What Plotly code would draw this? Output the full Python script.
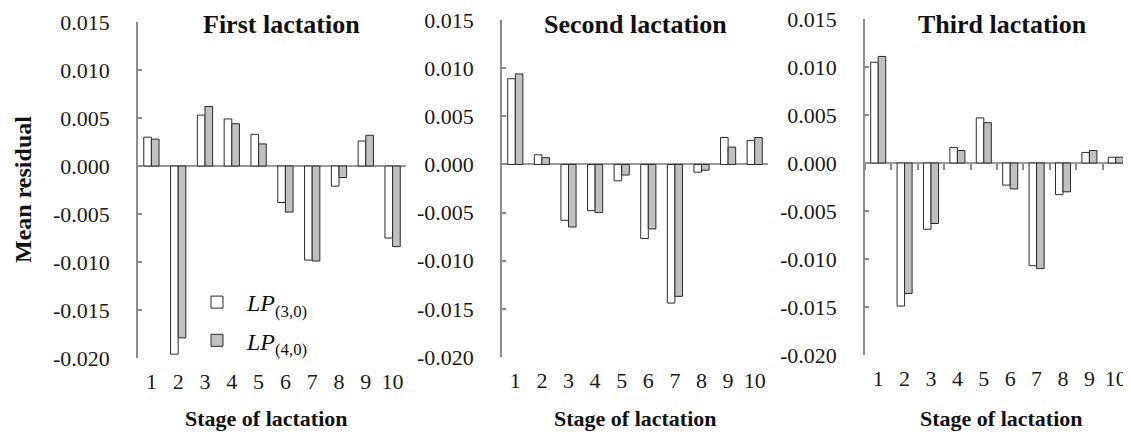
import plotly.graph_objects as go

W, H = 1131, 436
OX, OY = 8, 8  # the page draws the figure 8px in from the top-left corner

stages = [1, 2, 3, 4, 5, 6, 7, 8, 9, 10]
stage_labels = ["1", "2", "3", "4", "5", "6", "7", "8", "9", "10"]

first_lp30 = [0.0030, -0.0196, 0.0053, 0.0049, 0.0033, -0.0038, -0.0098, -0.0021, 0.0026, -0.0075]
first_lp40 = [0.0028, -0.0179, 0.0062, 0.0044, 0.0023, -0.0048, -0.0099, -0.0012, 0.0032, -0.0084]
second_lp30 = [0.0089, 0.0010, -0.0058, -0.0048, -0.0017, -0.0077, -0.0144, -0.0008, 0.0028, 0.0025]
second_lp40 = [0.0094, 0.0007, -0.0065, -0.0050, -0.0011, -0.0067, -0.0137, -0.0006, 0.0018, 0.0028]
third_lp30 = [0.0105, -0.0149, -0.0069, 0.0016, 0.0047, -0.0023, -0.0107, -0.0033, 0.0011, 0.0006]
third_lp40 = [0.0111, -0.0136, -0.0063, 0.0013, 0.0042, -0.0027, -0.0110, -0.0030, 0.0013, 0.0006]

y_tickvals = [0.015, 0.010, 0.005, 0.0, -0.005, -0.010, -0.015, -0.020]
y_ticktext = ["0.015", "0.010", "0.005", "0.000", "-0.005", "-0.010", "-0.015", "-0.020"]

panel_titles = ["First lactation", "Second lactation", "Third lactation"]
series_names = ["<i>LP</i><sub>(3,0)</sub>", "<i>LP</i><sub>(4,0)</sub>"]

FONT = "Liberation Serif"
AXIS_GREY = "#8c8c8c"
YMIN, YMAX = -0.020, 0.015

# pixel layout of panels on the screen: (x0, x1, ytop, ybottom)
panels = [(138, 406, 22, 358), (502, 768, 20, 357), (865, 1129, 19, 355)]
title_x = [281, 636, 1002]
xtitle_px = [(266, 418), (636, 418), (1001, 418)]

def px(x):
    return (x - OX) / W

def py(y):
    return 1 - (y - OY) / H

data = [(first_lp30, first_lp40), (second_lp30, second_lp40), (third_lp30, third_lp40)]

fig = go.Figure()
for i, (s30, s40) in enumerate(data):
    k = "" if i == 0 else str(i + 1)
    fig.add_trace(go.Bar(
        x=stages, y=s30, name=series_names[0], xaxis="x" + k, yaxis="y" + k,
        marker=dict(color="white", line=dict(color="#2b2b2b", width=1)),
        showlegend=(i == 0), legendgroup="a",
    ))
    fig.add_trace(go.Bar(
        x=stages, y=s40, name=series_names[1], xaxis="x" + k, yaxis="y" + k,
        marker=dict(color="#c0c0c0", line=dict(color="#2b2b2b", width=1)),
        showlegend=(i == 0), legendgroup="b",
    ))

# invisible trace to host the boundary-tick axis of the third panel
fig.add_trace(go.Scatter(x=[stages[0]], y=[0], xaxis="x4", yaxis="y3", mode="markers",
                         marker=dict(opacity=0), showlegend=False, hoverinfo="skip"))

layout = dict(
    template="none",
    width=W, height=H, autosize=False,
    margin=dict(l=0, r=0, t=0, b=0, pad=0, autoexpand=False),
    paper_bgcolor="white", plot_bgcolor="white",
    barmode="group", bargap=0.43, bargroupgap=0,
    font=dict(family=FONT, size=22, color="#1a1a1a"),
    showlegend=True,
    legend=dict(x=px(187), y=py(280), xanchor="left", yanchor="top",
                bgcolor="rgba(0,0,0,0)", borderwidth=0,
                font=dict(family=FONT, size=24, color="#111"),
                tracegroupgap=4, itemwidth=50),
)

annotations = []
for i, (x0, x1, yt, yb) in enumerate(panels):
    k = "" if i == 0 else str(i + 1)
    layout["xaxis" + k] = dict(
        domain=[px(x0), px(x1)], anchor="y" + k, range=[0.5, 10.5], automargin=False,
        tickvals=stages, ticktext=stage_labels, showline=False, showgrid=False,
        zeroline=False, ticks="outside", ticklen=4, tickcolor="rgba(0,0,0,0)",
        ticklabeloverflow="allow",
        tickfont=dict(family=FONT, size=22, color="#1a1a1a"),
    )
    layout["yaxis" + k] = dict(
        domain=[py(yb), py(yt)], anchor="x" + k, range=[YMIN, YMAX], automargin=False,
        tickvals=y_tickvals, ticktext=y_ticktext, showgrid=False,
        showline=True, linecolor=AXIS_GREY, linewidth=1.5,
        ticks="inside", ticklen=4, tickcolor=AXIS_GREY, tickwidth=1.5,
        ticklabelstandoff=22, ticklabeloverflow="allow",
        zeroline=True, zerolinecolor="#9a9a9a", zerolinewidth=1.5,
        tickfont=dict(family=FONT, size=22, color="#1a1a1a"),
    )
    annotations.append(dict(text="<b>" + panel_titles[i] + "</b>", x=px(title_x[i]), y=1,
                            xref="paper", yref="paper", showarrow=False,
                            xanchor="center", yanchor="top",
                            font=dict(family=FONT, size=26, color="#111")))
    xx, xy = xtitle_px[i]
    annotations.append(dict(text="<b>Stage of lactation</b>", x=px(xx), y=py(xy),
                            xref="paper", yref="paper", showarrow=False,
                            xanchor="center", yanchor="middle",
                            font=dict(family=FONT, size=22, color="#111")))

annotations.append(dict(text="<b>Mean residual</b>", x=0, y=py(190), xref="paper", yref="paper",
                        showarrow=False, textangle=-90, xanchor="left", yanchor="middle",
                        font=dict(family=FONT, size=24, color="#111")))

# boundary ticks on the zero line of the third panel
x0, x1, yt, yb = panels[2]
d0, d1 = py(yb), py(yt)
zero_pos = d0 + (0 - YMIN) / (YMAX - YMIN) * (d1 - d0)
layout["xaxis4"] = dict(
    overlaying="x3", anchor="free", position=zero_pos, range=[0.5, 10.5], automargin=False,
    tickvals=[s - 0.5 for s in stages] + [stages[-1] + 0.5], showticklabels=False,
    ticks="outside", ticklen=6, tickwidth=1.5, tickcolor=AXIS_GREY,
    showline=False, showgrid=False, zeroline=False,
)

layout["annotations"] = annotations

fig.update_layout(**layout)
fig.write_html("out.html")
